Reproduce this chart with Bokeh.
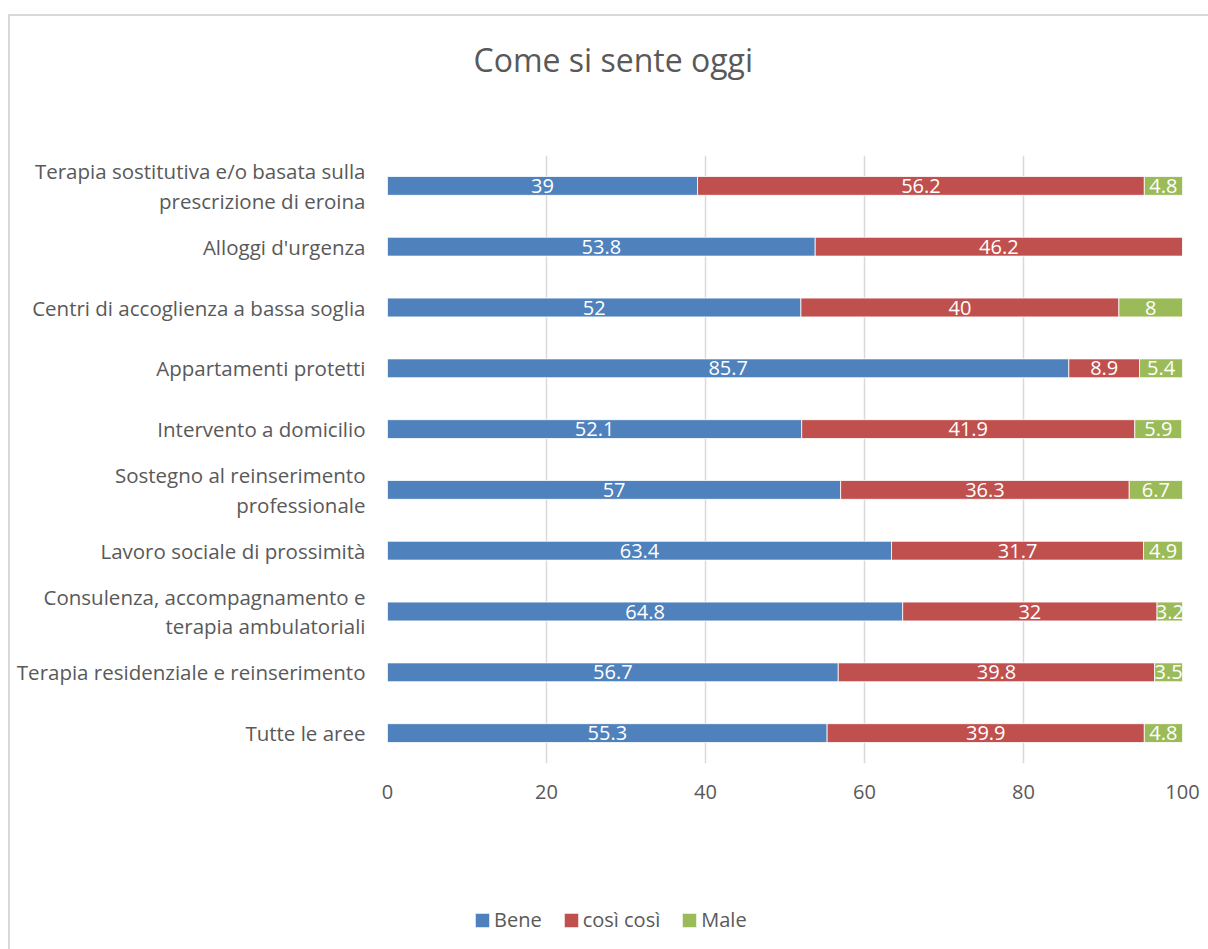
from bokeh.plotting import figure
from bokeh.layouts import column
from bokeh.models import ColumnDataSource, FactorRange, Range1d, Legend, LegendItem, Title, FixedTicker
from bokeh.core.properties import value
from bokeh.embed import file_html
from bokeh.resources import INLINE

# Categories listed top to bottom as in the chart
categories = [
    "Terapia sostitutiva e/o basata sulla\nprescrizione di eroina",
    "Alloggi d'urgenza",
    "Centri di accoglienza a bassa soglia",
    "Appartamenti protetti",
    "Intervento a domicilio",
    "Sostegno al reinserimento\nprofessionale",
    "Lavoro sociale di prossimità",
    "Consulenza, accompagnamento e\nterapia ambulatoriali",
    "Terapia residenziale e reinserimento",
    "Tutte le aree",
]
bene = [39, 53.8, 52, 85.7, 52.1, 57, 63.4, 64.8, 56.7, 55.3]
cosi = [56.2, 46.2, 40, 8.9, 41.9, 36.3, 31.7, 32, 39.8, 39.9]
male = [4.8, 0, 8, 5.4, 5.9, 6.7, 4.9, 3.2, 3.5, 4.8]

series_names = ["Bene", "così così", "Male"]
series_keys = ["bene", "cosi", "male"]
colors = ["#4F81BD", "#C0504D", "#9BBB59"]
x_ticks = [0, 20, 40, 60, 80, 100]
title_text = "Come si sente oggi"

TEXT = "#595959"
FONT = "Open Sans"

src = ColumnDataSource(dict(cat=categories, bene=bene, cosi=cosi, male=male))

W = 1198
H_MAIN = 814
H_LEG = 119

p = figure(
    width=W, height=H_MAIN,
    y_range=FactorRange(factors=list(reversed(categories)), range_padding=0),
    x_range=Range1d(0, 100),
    output_backend="svg", toolbar_location=None,
    min_border_left=377, min_border_right=26,
    min_border_top=139, min_border_bottom=67,
)
p.outline_line_color = None
p.background_fill_color = "white"
p.border_fill_color = "white"

renderers = p.hbar_stack(series_keys, y="cat", height=0.31, color=colors,
                         source=src, line_color="white", line_width=0.8)

# data labels
lx, ly, lt = [], [], []
for i, c in enumerate(categories):
    left = 0.0
    for vals in (bene, cosi, male):
        v = vals[i]
        if v > 0:
            lx.append(left + v / 2.0)
            ly.append(c)
            lt.append(f"{v:g}")
        left += v
p.text(x="x", y="y", text="t", source=ColumnDataSource(dict(x=lx, y=ly, t=lt)),
       text_align="center", text_baseline="middle", text_color="white",
       text_font=value(FONT), text_font_size="20px")

# axes
p.xaxis.ticker = FixedTicker(ticks=x_ticks)
p.xaxis.axis_line_color = None
p.xaxis.major_tick_line_color = None
p.xaxis.minor_tick_line_color = None
p.xaxis.major_tick_out = 0
p.xaxis.major_label_standoff = 21
p.xaxis.major_label_text_font = FONT
p.xaxis.major_label_text_font_size = "20px"
p.xaxis.major_label_text_color = TEXT

p.yaxis.axis_line_color = None
p.yaxis.major_tick_line_color = None
p.yaxis.minor_tick_line_color = None
p.yaxis.major_tick_out = 0
p.yaxis.major_label_standoff = 22
p.yaxis.major_label_text_font = FONT
p.yaxis.major_label_text_font_size = "20.5px"
p.yaxis.major_label_text_color = TEXT
p.yaxis.major_label_text_align = "center"
p.yaxis.major_label_text_line_height = 1.05

p.xgrid.ticker = FixedTicker(ticks=x_ticks)
p.xgrid.grid_line_color = "#d9d9d9"
p.xgrid.grid_line_width = 1.5
p.ygrid.grid_line_color = None

# title: a blank spacer sits closest to the frame, the title above it
p.add_layout(Title(text=" ", text_font_size="52px"), "above")
p.add_layout(Title(text=title_text, align="left", offset=86, text_font=FONT,
                   text_font_size="32px", text_color=TEXT, text_font_style="normal"), "above")

# legend strip below the chart (its frame is aligned with the chart's frame)
leg = figure(width=W, height=H_LEG, x_range=Range1d(0, 1), y_range=Range1d(0, 1),
             output_backend="svg", toolbar_location=None,
             min_border=0, min_border_left=0, min_border_right=0,
             min_border_top=0, min_border_bottom=0)
leg.axis.visible = False
leg.grid.visible = False
leg.outline_line_color = None
leg_renderers = [leg.hbar(y=[0.5], left=[0], right=[0], height=0, color=c,
                          line_color="white", line_width=0.8) for c in colors]
legend = Legend(
    items=[LegendItem(label=n, renderers=[r]) for n, r in zip(series_names, leg_renderers)],
    orientation="horizontal", location=(86, 16),
    label_text_font=FONT, label_text_font_size="20px", label_text_color=TEXT,
    glyph_width=18, glyph_height=18, label_standoff=3, spacing=20,
    padding=0, margin=0, border_line_color=None, background_fill_alpha=0,
)
leg.add_layout(legend, "center")

layout = column(p, leg, spacing=0,
                styles={"border-left": "2px solid #d9d9d9", "border-top": "2px solid #d9d9d9",
                        "margin-left": "8px", "margin-top": "14px"})

open("out.html", "w").write(file_html(layout, INLINE))
